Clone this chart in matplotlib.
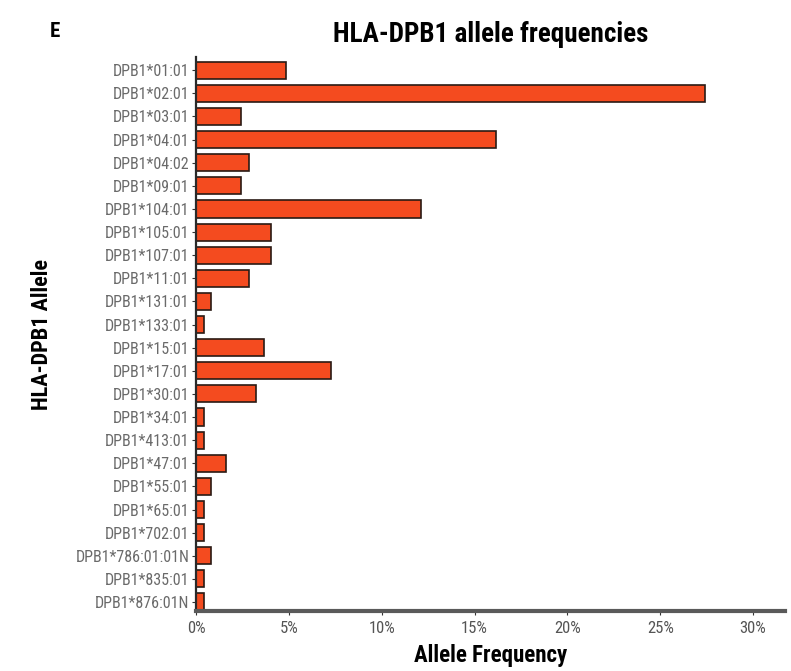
import matplotlib
matplotlib.use("Agg")
import matplotlib.pyplot as plt
from matplotlib.ticker import PercentFormatter

alleles = ["DPB1*01:01", "DPB1*02:01", "DPB1*03:01", "DPB1*04:01", "DPB1*04:02",
           "DPB1*09:01", "DPB1*104:01", "DPB1*105:01", "DPB1*107:01", "DPB1*11:01",
           "DPB1*131:01", "DPB1*133:01", "DPB1*15:01", "DPB1*17:01", "DPB1*30:01",
           "DPB1*34:01", "DPB1*413:01", "DPB1*47:01", "DPB1*55:01", "DPB1*65:01",
           "DPB1*702:01", "DPB1*786:01:01N", "DPB1*835:01", "DPB1*876:01N"]
freqs = [0.0484, 0.2742, 0.0242, 0.1613, 0.0282,
         0.0242, 0.1210, 0.0403, 0.0403, 0.0282,
         0.0081, 0.0040, 0.0363, 0.0726, 0.0323,
         0.0040, 0.0040, 0.0161, 0.0081, 0.0040,
         0.0040, 0.0081, 0.0040, 0.0040]
xticks = [0, 0.05, 0.10, 0.15, 0.20, 0.25, 0.30]

plt.rcParams['font.family'] = ['Roboto Condensed', 'DejaVu Sans']

fig = plt.figure(figsize=(7.91, 6.71), dpi=100)
ax = fig.add_axes([0.248, 0.089, 0.744, 0.826])

ypos = list(range(len(alleles)))
ax.barh(ypos, freqs, height=0.74, color="#F44B1F", edgecolor="#2a1a14", linewidth=1.2)
ax.set_yticks(ypos)
ax.set_yticklabels(alleles, fontsize=11.5, color="#6a6a6a")
ax.set_ylim(23.4, -0.57)
ax.set_xlim(0, 0.317)
ax.set_xticks(xticks)
ax.xaxis.set_major_formatter(PercentFormatter(1.0, decimals=0))
ax.tick_params(axis='x', labelsize=12, color="#333333", length=3, labelcolor="#555555", pad=4)
ax.tick_params(axis='y', length=3, color="#333333", pad=2)

for s in ["top", "right"]:
    ax.spines[s].set_visible(False)
ax.spines["left"].set_color("#2a2a2a")
ax.spines["left"].set_linewidth(1.6)
ax.spines["bottom"].set_color("#5a5a5a")
ax.spines["bottom"].set_linewidth(3)

ax.set_xlabel("Allele Frequency", fontsize=16.5, fontweight="bold", labelpad=6)
ax.set_ylabel("HLA-DPB1 Allele", fontsize=16, fontweight="bold")
ax.yaxis.set_label_coords(-0.243, 0.5)
ax.set_title("HLA-DPB1 allele frequencies", fontsize=19.5, fontweight="bold", pad=11)
fig.text(0.063, 0.953, "E", fontsize=15, fontweight="bold", ha="left", va="center")

fig.savefig("out.png", dpi=100)
